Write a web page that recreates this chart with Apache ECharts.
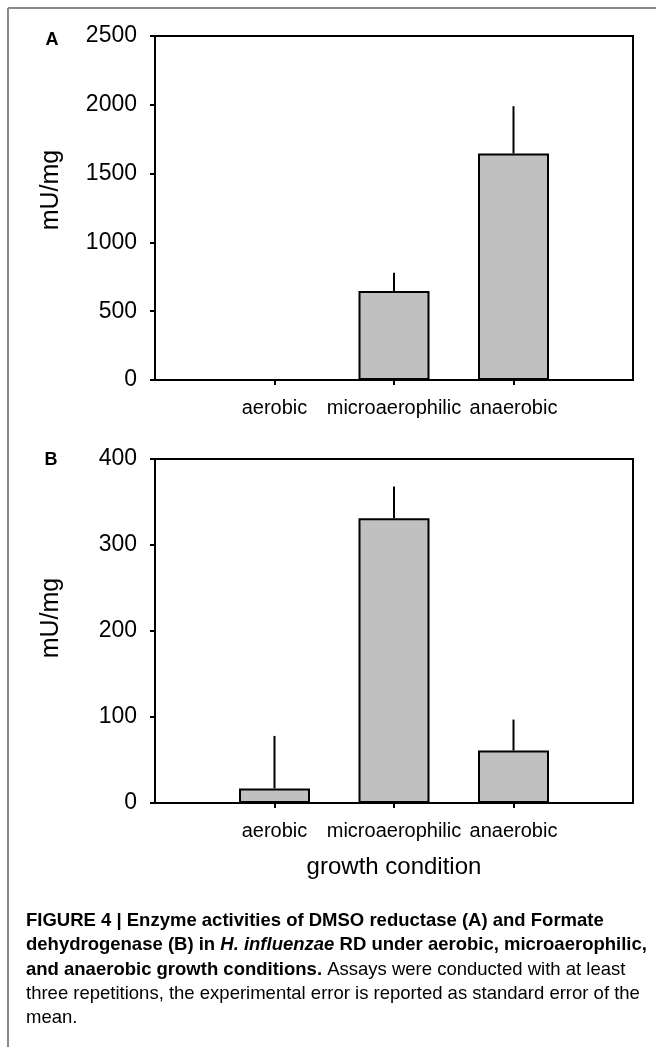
<!DOCTYPE html>
<html lang="en">
<head>
  <meta charset="UTF-8">
  <title>Enzyme activities - Figure 4</title>
  <script src="https://cdn.jsdelivr.net/npm/echarts@6/dist/echarts.min.js"></script>
  <style>
    html, body {
      margin: 0;
      padding: 0;
      background: #ffffff;
      overflow: hidden;
    }
    #chart {
      width: 656px;
      height: 1047px;
    }
  </style>
</head>
<body>
  <div id="chart"></div>

  <script>
    // growth conditions, placed at x = 1, 2, 3
    var conditions = ['aerobic', 'microaerophilic', 'anaerobic'];
    var conditionPos = [1, 2, 3];

    // panel A: DMSO reductase (mU/mg) and its standard error
    var dmsoMean = [0, 646, 1646];
    var dmsoErr = [0, 133, 344];
    var dmsoTicks = [0, 500, 1000, 1500, 2000, 2500];

    // panel B: formate dehydrogenase (mU/mg) and its standard error
    var fdhMean = [17, 331, 61];
    var fdhErr = [61, 37, 36];
    var fdhTicks = [0, 100, 200, 300, 400];

    var chart = echarts.init(document.getElementById('chart'));

    var sans = "'Liberation Sans', Arial, Helvetica, sans-serif";

    function barData(means) {
      return means.map(function (v, i) { return [conditionPos[i], v]; });
    }
    function errData(means, errs) {
      return means.map(function (v, i) { return [conditionPos[i], v, v + errs[i]]; });
    }

    // only the upper half of the error bar, no caps
    function renderErr(params, api) {
      var p0 = api.coord([api.value(0), api.value(1)]);
      var p1 = api.coord([api.value(0), api.value(2)]);
      return {
        type: 'line',
        shape: { x1: p0[0], y1: p0[1], x2: p1[0], y2: p1[1] },
        style: { stroke: '#000', lineWidth: 2 }
      };
    }

    function xAxisFor(gridIndex, extra) {
      var ax = {
        type: 'value',
        gridIndex: gridIndex,
        min: 0,
        max: 4,
        interval: 1,
        splitLine: { show: false },
        axisLine: { lineStyle: { color: '#000', width: 2 } },
        axisTick: { customValues: conditionPos, length: 5, lineStyle: { color: '#000', width: 2 } },
        axisLabel: {
          customValues: conditionPos,
          margin: 18,
          fontSize: 20,
          fontFamily: sans,
          color: '#000',
          formatter: function (v) { return conditions[Math.round(v) - 1] || ''; }
        }
      };
      return Object.assign(ax, extra || {});
    }

    function yAxisFor(gridIndex, ticks) {
      return {
        type: 'value',
        gridIndex: gridIndex,
        min: ticks[0],
        max: ticks[ticks.length - 1],
        interval: ticks[1] - ticks[0],
        splitLine: { show: false },
        axisLine: { show: true, lineStyle: { color: '#000', width: 2 } },
        axisTick: { show: true, length: 5, lineStyle: { color: '#000', width: 2 } },
        axisLabel: {
          margin: 18, fontSize: 23, fontFamily: sans, color: '#000',
          formatter: function (v) { return String(v); }
        }
      };
    }

    var captionRich = {
      b: { fontFamily: sans, fontWeight: 'bold', fontSize: 18.5, color: '#1a1a1a' },
      bi: { fontFamily: sans, fontWeight: 'bold', fontStyle: 'italic', fontSize: 18.5, color: '#1a1a1a' },
      n: { fontFamily: sans, fontSize: 18.5, color: '#1a1a1a' }
    };
    var captionLines = [
      '{b|FIGURE 4 | Enzyme activities of DMSO reductase (A) and Formate}',
      '{b|dehydrogenase (B) in }{bi|H. influenzae}{b| RD under aerobic, microaerophilic,}',
      '{b|and anaerobic growth conditions.}{n| Assays were conducted with at least}',
      '{n|three repetitions, the experimental error is reported as standard error of the}',
      '{n|mean.}'
    ];

    var graphics = [
      // page frame (left and top rule)
      { type: 'line', shape: { x1: 8, y1: 8, x2: 8, y2: 1047 }, style: { stroke: '#8a8a8a', lineWidth: 2 } },
      { type: 'line', shape: { x1: 8, y1: 8, x2: 656, y2: 8 }, style: { stroke: '#8a8a8a', lineWidth: 2 } },
      // panel letters
      { type: 'text', x: 52, y: 40, style: { text: 'A', font: 'bold 18px ' + sans, fill: '#000', align: 'center', verticalAlign: 'middle' } },
      { type: 'text', x: 51, y: 460, style: { text: 'B', font: 'bold 18px ' + sans, fill: '#000', align: 'center', verticalAlign: 'middle' } },
      // y axis titles
      { type: 'text', x: 51, y: 190, rotation: Math.PI / 2, style: { text: 'mU/mg', font: '25px ' + sans, fill: '#000', align: 'center', verticalAlign: 'middle' } },
      { type: 'text', x: 51, y: 618, rotation: Math.PI / 2, style: { text: 'mU/mg', font: '25px ' + sans, fill: '#000', align: 'center', verticalAlign: 'middle' } }
    ];
    captionLines.forEach(function (line, i) {
      graphics.push({
        type: 'text', x: 26, y: 921 + i * 24.3,
        style: { text: line, rich: captionRich, align: 'left', verticalAlign: 'middle' }
      });
    });

    var option = {
      animation: false,
      backgroundColor: '#ffffff',
      grid: [
        { left: 155, right: 23, top: 36, height: 344, show: true, borderColor: '#000', borderWidth: 2, backgroundColor: 'transparent' },
        { left: 155, right: 23, top: 459, height: 344, show: true, borderColor: '#000', borderWidth: 2, backgroundColor: 'transparent' }
      ],
      xAxis: [
        xAxisFor(0),
        xAxisFor(1, {
          name: 'growth condition',
          nameLocation: 'middle',
          nameGap: 52,
          nameTextStyle: { fontSize: 24, fontFamily: sans, color: '#000' }
        })
      ],
      yAxis: [
        yAxisFor(0, dmsoTicks),
        yAxisFor(1, fdhTicks)
      ],
      series: [
        {
          name: 'DMSO reductase',
          type: 'bar',
          xAxisIndex: 0,
          yAxisIndex: 0,
          barWidth: 71,
          itemStyle: { color: '#c0c0c0', borderColor: '#000', borderWidth: 2 },
          data: barData(dmsoMean)
        },
        {
          type: 'custom',
          xAxisIndex: 0,
          yAxisIndex: 0,
          renderItem: renderErr,
          data: errData(dmsoMean, dmsoErr),
          z: 3
        },
        {
          name: 'Formate dehydrogenase',
          type: 'bar',
          xAxisIndex: 1,
          yAxisIndex: 1,
          barWidth: 71,
          itemStyle: { color: '#c0c0c0', borderColor: '#000', borderWidth: 2 },
          data: barData(fdhMean)
        },
        {
          type: 'custom',
          xAxisIndex: 1,
          yAxisIndex: 1,
          renderItem: renderErr,
          data: errData(fdhMean, fdhErr),
          z: 3
        }
      ],
      graphic: graphics
    };

    chart.setOption(option);
  </script>
</body>
</html>
